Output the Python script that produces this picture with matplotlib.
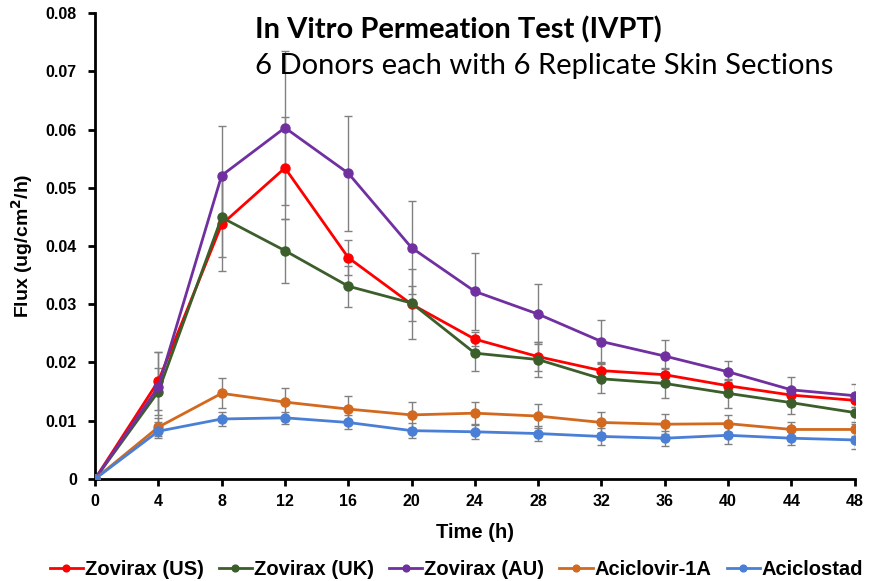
import matplotlib
matplotlib.use("Agg")
import matplotlib.pyplot as plt
import numpy as np

plt.rcParams['font.family'] = ['Liberation Sans', 'DejaVu Sans']

time_h = [0, 4, 8, 12, 16, 20, 24, 28, 32, 36, 40, 44, 48]

series_names = ['Zovirax (US)', 'Zovirax (UK)', 'Zovirax (AU)', 'Aciclovir-1A', 'Aciclostad']
series_colors = ['#FF0000', '#3B5E2B', '#7030A0', '#D2691E', '#4A7FD6']

us_flux = [0, 0.0168, 0.0437, 0.0534, 0.0380, 0.0300, 0.0240, 0.0210, 0.0186, 0.0179, 0.0160, 0.0144, 0.0135]
uk_flux = [0, 0.0150, 0.0449, 0.0392, 0.0331, 0.0302, 0.0216, 0.0205, 0.0172, 0.0164, 0.0147, 0.0131, 0.0114]
au_flux = [0, 0.0158, 0.0521, 0.0603, 0.0525, 0.0397, 0.0322, 0.0283, 0.0236, 0.0211, 0.0184, 0.0153, 0.0143]
a1a_flux = [0, 0.0089, 0.0147, 0.0132, 0.0120, 0.0110, 0.0113, 0.0108, 0.0097, 0.0094, 0.0095, 0.0085, 0.0085]
acs_flux = [0, 0.0082, 0.0103, 0.0105, 0.0097, 0.0083, 0.0081, 0.0078, 0.0073, 0.0070, 0.0075, 0.0070, 0.0067]

us_err = [0, 0.0050, 0.0080, 0.0087, 0.0030, 0.0060, 0.0012, 0.0025, 0.0015, 0.0012, 0.0010, 0.0010, 0.0012]
uk_err = [0, 0.0040, 0.0068, 0.0055, 0.0035, 0.0030, 0.0030, 0.0030, 0.0025, 0.0025, 0.0025, 0.0020, 0.0020]
au_err = [0, 0.0060, 0.0085, 0.0132, 0.0099, 0.0080, 0.0066, 0.0052, 0.0037, 0.0028, 0.0018, 0.0022, 0.0020]
a1a_err = [0, 0.0015, 0.0026, 0.0025, 0.0023, 0.0022, 0.0020, 0.0020, 0.0018, 0.0017, 0.0015, 0.0012, 0.0012]
acs_err = [0, 0.0012, 0.0012, 0.0010, 0.0012, 0.0013, 0.0013, 0.0013, 0.0015, 0.0013, 0.0015, 0.0012, 0.0015]

flux = [us_flux, uk_flux, au_flux, a1a_flux, acs_flux]
errs = [us_err, uk_err, au_err, a1a_err, acs_err]

fig = plt.figure(figsize=(8.83, 5.81), dpi=100)
ax = fig.add_axes([0.1076, 0.1756, 0.8604, 0.802])

for name, col, y, e in zip(series_names, series_colors, flux, errs):
    ax.errorbar(time_h, y, yerr=e, fmt='none', ecolor='#808080', elinewidth=1,
                capsize=3, capthick=1, zorder=2)
for name, col, y in zip(series_names, series_colors, flux):
    ax.plot(time_h, y, '-o', color=col, lw=2, markersize=6.5, label=name, zorder=3)

ax.set_xlim(0, 48)
ax.set_ylim(0, 0.08)
ax.set_xticks(time_h)
ax.set_yticks(np.arange(0, 0.081, 0.01))
ax.set_yticklabels(['0'] + ['%.2f' % v for v in np.arange(0.01, 0.081, 0.01)])
ax.spines['top'].set_visible(False)
ax.spines['right'].set_visible(False)
ax.spines['left'].set_linewidth(2)
ax.spines['bottom'].set_linewidth(2)
ax.tick_params(axis='both', width=2, length=5, labelsize=11.5)
ax.tick_params(axis='x', pad=6)
ax.tick_params(axis='y', pad=8)
for lbl in ax.get_xticklabels() + ax.get_yticklabels():
    lbl.set_fontweight('bold')
ax.set_xlabel('Time (h)', fontsize=14.5, fontweight='bold', labelpad=10)
ax.set_ylabel('Flux (ug/cm$^\\mathbf{2}$/h)', fontsize=14, fontweight='bold', labelpad=8)

fig.text(0.289, 0.948, 'In Vitro Permeation Test (IVPT)', fontsize=21, fontweight='bold',
         family=['Lato', 'DejaVu Sans'], va='center')
fig.text(0.289, 0.886, '6 Donors each with 6 Replicate Skin Sections', fontsize=21,
         family=['Lato', 'DejaVu Sans'], va='center')

leg = fig.legend(loc='center', bbox_to_anchor=(0.517, 0.019), ncol=5, frameon=False,
                 prop={'weight': 'bold', 'size': 14.5}, handlelength=1.65, handletextpad=0.1,
                 columnspacing=0.75, markerscale=0.75, borderaxespad=0, borderpad=0)

fig.savefig('out.png', dpi=100)
